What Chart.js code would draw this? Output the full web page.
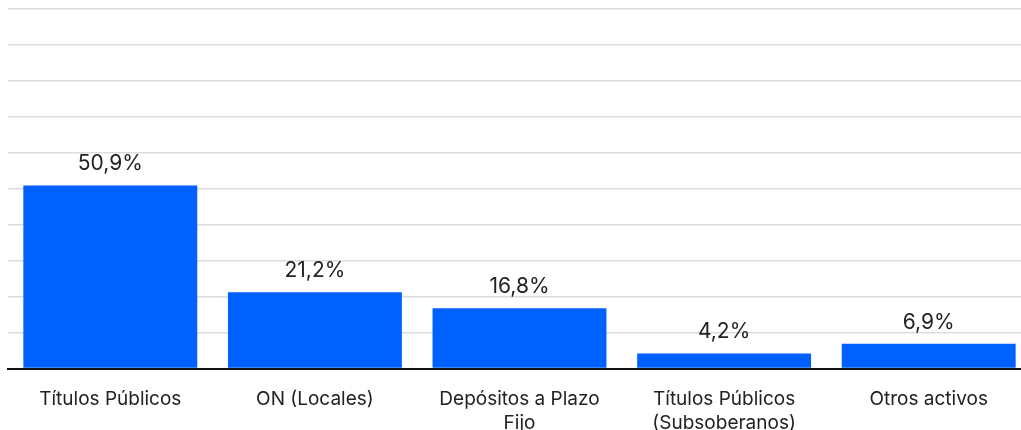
<!DOCTYPE html>
<html>
<head>
<meta charset="utf-8">
<script src="https://cdn.jsdelivr.net/npm/chart.js@4.4.0/dist/chart.umd.min.js"></script>
<style>
  html, body { margin: 0; padding: 0; background: #fff; overflow: hidden; }
  #wrap { width: 1031px; height: 430px; }
</style>
</head>
<body>
<div id="wrap"><canvas id="chart"></canvas></div>
<script>
const categorias = [
  "Títulos Públicos",
  "ON (Locales)",
  ["Depósitos a Plazo", "Fijo"],
  ["Títulos Públicos", "(Subsoberanos)"],
  "Otros activos"
]
const valores = [50.9, 21.2, 16.8, 4.2, 6.9]
const etiquetas = ["50,9%", "21,2%", "16,8%", "4,2%", "6,9%"]

/* etiquetas arriba de cada barra */
const etiquetasBarras = {
  id: 'etiquetasBarras',
  afterDatasetsDraw(chart) {
    const ctx = chart.ctx
    const meta = chart.getDatasetMeta(0)
    ctx.save()
    ctx.font = '21px Inter, "Liberation Sans", sans-serif'
    ctx.fillStyle = '#222'
    ctx.textAlign = 'center'
    ctx.textBaseline = 'bottom'
    meta.data.forEach((bar, i) => {
      ctx.fillText(etiquetas[i], bar.x, bar.y - 11)
    })
    ctx.restore()
  }
}

new Chart(document.getElementById('chart'), {
  type: 'bar',
  data: {
    labels: categorias,
    datasets: [{
      data: valores,
      backgroundColor: '#0061FE',
      barPercentage: 0.85,
      categoryPercentage: 1
    }]
  },
  options: {
    responsive: true,
    maintainAspectRatio: false,
    animation: false,
    layout: { padding: { left: 8, top: 9, right: 0, bottom: -16 } },
    plugins: { legend: { display: false }, tooltip: { enabled: false } },
    scales: {
      x: {
        grid: { display: false },
        border: { color: '#111', width: 2 },
        ticks: {
          color: '#222',
          font: { family: 'Inter, "Liberation Sans", sans-serif', size: 19, lineHeight: 1.3 },
          padding: 10,
          maxRotation: 0,
          autoSkip: false
        }
      },
      y: {
        min: 0,
        max: 100,
        ticks: { display: false, stepSize: 10 },
        grid: { color: '#dcdcdc', lineWidth: 1.5, drawTicks: false },
        border: { display: false }
      }
    }
  },
  plugins: [etiquetasBarras]
})
</script>
</body>
</html>
